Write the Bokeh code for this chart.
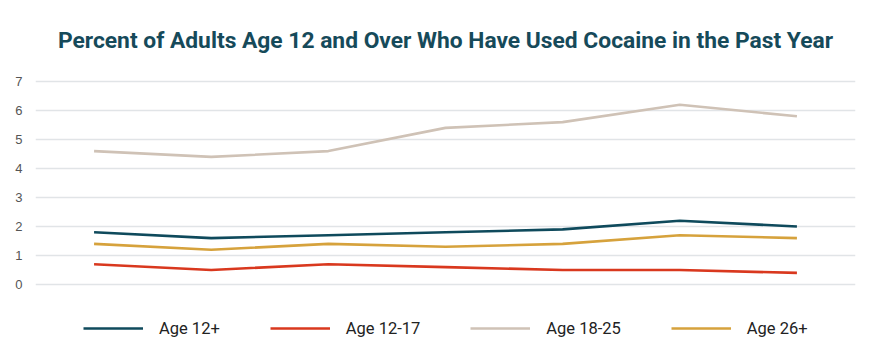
from bokeh.plotting import figure
from bokeh.models import Range1d, FixedTicker, Label, Legend, LegendItem
from bokeh.embed import file_html
from bokeh.resources import INLINE

years = ["2015", "2016", "2017", "2018", "2019", "2020", "2021"]
age_12_plus = [1.8, 1.6, 1.7, 1.8, 1.9, 2.2, 2.0]
age_12_17 = [0.7, 0.5, 0.7, 0.6, 0.5, 0.5, 0.4]
age_18_25 = [4.6, 4.4, 4.6, 5.4, 5.6, 6.2, 5.8]
age_26_plus = [1.4, 1.2, 1.4, 1.3, 1.4, 1.7, 1.6]
y_ticks = [0, 1, 2, 3, 4, 5, 6, 7]

series = [
    ("Age 12+", age_12_plus, "#0f4a5c"),
    ("Age 12-17", age_12_17, "#d9381e"),
    ("Age 18-25", age_18_25, "#cfc2b6"),
    ("Age 26+", age_26_plus, "#d6a23c"),
]

W, H = 874, 344
p = figure(width=W, height=H, x_range=years, y_range=Range1d(-2.069, 9.793),
           output_backend="svg", toolbar_location=None,
           min_border_left=35, min_border_right=19, min_border_top=0, min_border_bottom=0)
p.x_range.range_padding = 0
p.outline_line_color = None
p.xaxis.visible = False
p.xgrid.visible = False
p.yaxis.ticker = FixedTicker(ticks=y_ticks)
p.yaxis.axis_line_color = None
p.yaxis.major_tick_line_color = None
p.yaxis.minor_tick_line_color = None
p.yaxis.major_label_text_font = "Liberation Sans"
p.yaxis.major_label_text_font_size = "13px"
p.yaxis.major_label_text_color = "#555555"
p.yaxis.major_label_standoff = 7
p.ygrid.grid_line_color = "#e1e4e7"
p.ygrid.grid_line_width = 1.6

items = []
for name, vals, col in series:
    r = p.line(years, vals, line_color=col, line_width=2.6)
    items.append(LegendItem(label=name, renderers=[r]))

legend = Legend(items=items, orientation="horizontal", location=(48, 6),
                glyph_width=60, glyph_height=20, label_standoff=16, spacing=50,
                label_text_font="Roboto", label_text_font_size="16.5px",
                label_text_color="#222222", border_line_color=None,
                background_fill_alpha=0, padding=0, margin=0)
p.add_layout(legend)

title = Label(x=410, y=304, x_units="screen", y_units="screen",
              text="Percent of Adults Age 12 and Over Who Have Used Cocaine in the Past Year",
              text_font="Roboto", text_font_style="bold", text_font_size="22.8px",
              text_color="#164a5a", text_align="center", text_baseline="middle")
p.add_layout(title)

open("out.html", "w").write(file_html(p, INLINE))
